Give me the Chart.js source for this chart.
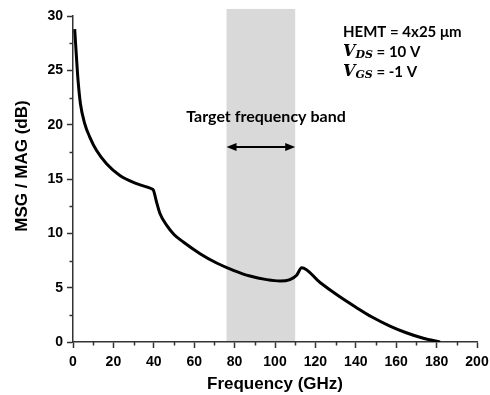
<!DOCTYPE html>
<html>
<head>
<meta charset="utf-8">
<script src="https://cdn.jsdelivr.net/npm/chart.js@4/dist/chart.umd.min.js"></script>
<style>
  html, body { margin: 0; padding: 0; background: #fff; }
  #chart { display: block; }
</style>
</head>
<body>
<canvas id="chart" width="490" height="395"></canvas>
<script>
// --- Data ---
const freqGHz = [0.85, 1.2, 1.68, 2.5, 3.7, 5.8, 8.3, 11.6, 16.6, 23.2, 31.5, 38.9, 39.8, 41.2, 43.1, 46.4, 50, 54.6,
    62.9, 71.1, 79.4, 87.6, 95.9, 102.5, 107.4, 110.7, 113.2, 122.3, 131, 140.4, 148, 156.9, 165, 173.4, 181.7];
const msgDb = [28.8, 27.7, 26.3, 24.07, 21.9, 20.1, 18.86, 17.64, 16.41, 15.33, 14.57, 14.1, 13.98, 13.0, 11.8, 10.74, 9.9, 9.2,
    8.13, 7.27, 6.6, 6.07, 5.74, 5.61, 5.74, 6.14, 6.84, 5.48, 4.3, 3.16, 2.3, 1.47, 0.85, 0.34, 0.0];

const xTicks = [0, 20, 40, 60, 80, 100, 120, 140, 160, 180, 200];
const yTicks = [0, 5, 10, 15, 20, 25, 30];
const xMinorTicks = [10, 30, 50, 70, 90, 110, 130, 150, 170, 190];
const yMinorTicks = [2.5, 7.5, 12.5, 17.5, 22.5, 27.5];

const bandGHz = [76, 110];      // target frequency band
const bandTopDb = 30.65;

const infoLines = [
    { v: '', sub: '', rest: 'HEMT = 4x25 \u03BCm' },
    { v: 'V', sub: 'DS', rest: ' = 10 V' },
    { v: 'V', sub: 'GS', rest: ' = -1 V' }
];

const AXIS_COLOR = '#333';
const TICK_FONT = "'Liberation Sans', Arial, sans-serif";
const NOTE_FONT = "Lato, 'Open Sans', sans-serif";

// --- Drawing helpers ---

const decorPlugin = {
    id: 'decor',
    beforeDraw(chart) {
        const { ctx, scales: { x, y } } = chart;
        ctx.save();
        ctx.fillStyle = '#d9d9d9';
        const x0 = x.getPixelForValue(bandGHz[0]);
        const x1 = x.getPixelForValue(bandGHz[1]);
        const yTop = y.getPixelForValue(bandTopDb);
        const yBot = y.getPixelForValue(0);
        ctx.fillRect(x0, yTop, x1 - x0, yBot - yTop);
        ctx.restore();
    },
    afterDraw(chart) {
        const { ctx, scales: { x, y } } = chart;
        ctx.save();

        // minor ticks
        ctx.strokeStyle = AXIS_COLOR;
        ctx.lineWidth = 1.5;
        ctx.beginPath();
        yMinorTicks.forEach(v => {
            const py = Math.round(y.getPixelForValue(v)) + 0.5;
            ctx.moveTo(x.left, py);
            ctx.lineTo(x.left - 3.5, py);
        });
        xMinorTicks.forEach(v => {
            const px = Math.round(x.getPixelForValue(v)) + 0.5;
            ctx.moveTo(px, y.bottom);
            ctx.lineTo(px, y.bottom + 3.5);
        });
        ctx.stroke();

        // y axis title
        ctx.fillStyle = '#000';
        ctx.font = `bold 17px ${TICK_FONT}`;
        ctx.textAlign = 'center';
        ctx.textBaseline = 'middle';
        ctx.save();
        ctx.translate(22, 166);
        ctx.rotate(-Math.PI / 2);
        ctx.fillText('MSG / MAG (dB)', 0, 0);
        ctx.restore();

        // band label + double arrow
        ctx.font = `bold 16px ${NOTE_FONT}`;
        ctx.fillText('Target frequency band', 266, 117);

        const ax0 = x.getPixelForValue(bandGHz[0]);
        const ax1 = x.getPixelForValue(bandGHz[1]);
        const ay = 147;
        const head = 10;
        ctx.strokeStyle = '#000';
        ctx.lineWidth = 2;
        ctx.beginPath();
        ctx.moveTo(ax0 + head - 2, ay);
        ctx.lineTo(ax1 - head + 2, ay);
        ctx.stroke();
        ctx.beginPath();
        ctx.moveTo(ax0, ay);
        ctx.lineTo(ax0 + head, ay - 4);
        ctx.lineTo(ax0 + head, ay + 4);
        ctx.closePath();
        ctx.moveTo(ax1, ay);
        ctx.lineTo(ax1 - head, ay - 4);
        ctx.lineTo(ax1 - head, ay + 4);
        ctx.closePath();
        ctx.fill();

        // device / bias info
        ctx.textAlign = 'left';
        let ly = 32;
        infoLines.forEach(line => {
            let lx = 343;
            if (line.v) {
                ctx.font = "bold italic 16px 'DejaVu Serif', serif";
                ctx.fillText(line.v, lx, ly);
                lx += ctx.measureText(line.v).width;
                ctx.font = "bold italic 11px 'DejaVu Serif', serif";
                ctx.fillText(line.sub, lx, ly + 3);
                lx += ctx.measureText(line.sub).width;
            }
            ctx.font = `bold 15px ${NOTE_FONT}`;
            ctx.fillText(line.rest, lx, ly);
            ly += 20;
        });

        ctx.restore();
    }
};

new Chart(document.getElementById('chart'), {
    type: 'line',
    data: {
        datasets: [{
            data: freqGHz.map((f, i) => ({ x: f, y: msgDb[i] })),
            borderColor: '#000',
            borderWidth: 3,
            pointRadius: 0,
            fill: false,
            cubicInterpolationMode: 'monotone'
        }]
    },
    options: {
        responsive: false,
        animation: false,
        devicePixelRatio: 1,
        layout: { padding: { top: 16, right: 13, left: 0, bottom: 0 } },
        plugins: { legend: { display: false }, tooltip: { enabled: false } },
        scales: {
            x: {
                type: 'linear',
                min: 0,
                max: 200,
                afterBuildTicks: s => { s.ticks = xTicks.map(v => ({ value: v })); },
                afterFit: s => { s.height = 53; s.paddingLeft = 0; s.paddingRight = 0; },
                ticks: { color: '#000', font: { family: TICK_FONT, size: 14, weight: 'bold' }, padding: 6, maxRotation: 0 },
                grid: { drawOnChartArea: false, drawTicks: true, tickLength: 6, tickWidth: 1.5, tickColor: AXIS_COLOR },
                border: { display: true, color: AXIS_COLOR, width: 1.5 },
                title: {
                    display: true,
                    text: 'Frequency (GHz)',
                    color: '#000',
                    font: { family: TICK_FONT, size: 17, weight: 'bold' },
                    padding: { top: 0, bottom: 0 }
                }
            },
            y: {
                min: 0,
                max: 30,
                afterBuildTicks: s => { s.ticks = yTicks.map(v => ({ value: v })); },
                afterFit: s => { s.width = 73; s.paddingTop = 0; s.paddingBottom = 0; },
                ticks: { color: '#000', font: { family: TICK_FONT, size: 14, weight: 'bold' }, padding: 4 },
                grid: { drawOnChartArea: false, drawTicks: true, tickLength: 6, tickWidth: 1.5, tickColor: AXIS_COLOR },
                border: { display: true, color: AXIS_COLOR, width: 1.5 }
            }
        }
    },
    plugins: [decorPlugin]
});
</script>
</body>
</html>
